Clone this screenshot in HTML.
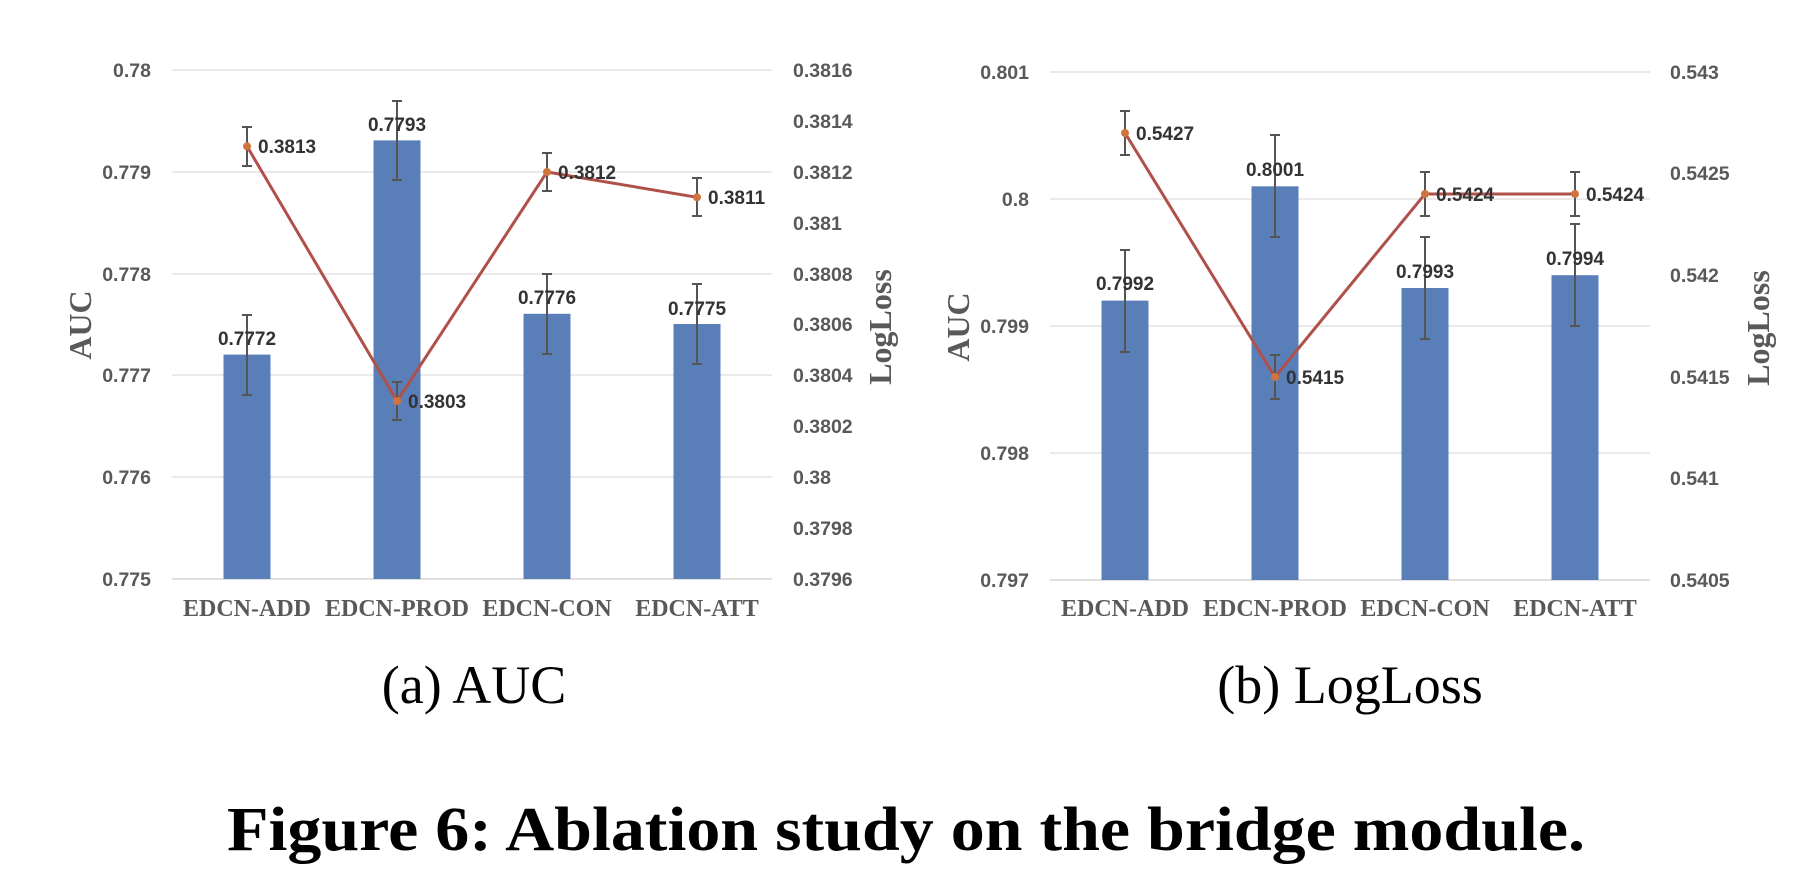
<!DOCTYPE html>
<html><head><meta charset="utf-8"><style>
html,body{margin:0;padding:0;background:#fff;}
svg{display:block;}
.t{font-family:"Liberation Sans",sans-serif;font-weight:bold;font-size:19.5px;fill:#595959;}
.d{font-family:"Liberation Sans",sans-serif;font-weight:bold;font-size:19px;fill:#333;}
.x{font-family:"Liberation Serif",serif;font-weight:bold;font-size:24px;fill:#595959;}
.at{font-family:"Liberation Serif",serif;font-weight:bold;font-size:32px;fill:#595959;}
.cap{font-family:"Liberation Serif",serif;font-size:54px;fill:#000;}
.fig{font-family:"Liberation Serif",serif;font-weight:bold;font-size:62px;fill:#000;}
</style></head><body>
<svg width="1812" height="892" viewBox="0 0 1812 892" xmlns="http://www.w3.org/2000/svg">
<!-- LEFT CHART -->
<g stroke="#e3e3e3" stroke-width="1.5">
<line x1="172" y1="70" x2="772" y2="70"/><line x1="172" y1="172" x2="772" y2="172"/>
<line x1="172" y1="274" x2="772" y2="274"/><line x1="172" y1="375" x2="772" y2="375"/>
<line x1="172" y1="477" x2="772" y2="477"/>
</g>
<line x1="172" y1="579" x2="772" y2="579" stroke="#d6d6d6" stroke-width="1.5"/>
<g class="t" text-anchor="end">
<text x="151" y="77">0.78</text><text x="151" y="179">0.779</text><text x="151" y="281">0.778</text>
<text x="151" y="382">0.777</text><text x="151" y="484">0.776</text><text x="151" y="586">0.775</text>
</g>
<g class="t">
<text x="793" y="77">0.3816</text><text x="793" y="128">0.3814</text><text x="793" y="179">0.3812</text>
<text x="793" y="230">0.381</text><text x="793" y="281">0.3808</text><text x="793" y="331">0.3806</text>
<text x="793" y="382">0.3804</text><text x="793" y="433">0.3802</text><text x="793" y="484">0.38</text>
<text x="793" y="535">0.3798</text><text x="793" y="586">0.3796</text>
</g>
<g fill="#5a7fb8">
<rect x="223.5" y="354.6" width="47" height="224.4"/>
<rect x="373.5" y="140.4" width="47" height="438.6"/>
<rect x="523.5" y="313.8" width="47" height="265.2"/>
<rect x="673.5" y="324" width="47" height="255"/>
</g>
<g stroke="#555" stroke-width="2">
<path d="M247 315V395M242 315H252M242 395H252"/>
<path d="M397 101V180M392 101H402M392 180H402"/>
<path d="M547 274V354M542 274H552M542 354H552"/>
<path d="M697 284V364M692 284H702M692 364H702"/>
</g>
<polyline points="247,146.3 397,401 547,172 697,197.3" fill="none" stroke="#b0504a" stroke-width="3"/>
<g stroke="#555" stroke-width="2">
<path d="M247 127V166M242 127H252M242 166H252"/>
<path d="M397 382V420M392 382H402M392 420H402"/>
<path d="M547 153V191M542 153H552M542 191H552"/>
<path d="M697 178V216M692 178H702M692 216H702"/>
</g>
<g fill="#d0733c"><circle cx="247" cy="146.3" r="4"/><circle cx="397" cy="401" r="4"/><circle cx="547" cy="172" r="4"/><circle cx="697" cy="197.3" r="4"/></g>
<g class="d" text-anchor="middle">
<text x="247" y="345">0.7772</text><text x="397" y="131">0.7793</text>
<text x="547" y="304">0.7776</text><text x="697" y="315">0.7775</text>
</g>
<g class="d">
<text x="258" y="153">0.3813</text><text x="408" y="408">0.3803</text>
<text x="558" y="179">0.3812</text><text x="708" y="204">0.3811</text>
</g>
<g class="x" text-anchor="middle">
<text x="247" y="616">EDCN-ADD</text><text x="397" y="616">EDCN-PROD</text>
<text x="547" y="616">EDCN-CON</text><text x="697" y="616">EDCN-ATT</text>
</g>
<text class="at" text-anchor="middle" transform="translate(91,325) rotate(-90)">AUC</text>
<text class="at" text-anchor="middle" transform="translate(891,327) rotate(-90)">LogLoss</text>
<text class="cap" x="474" y="703" text-anchor="middle">(a)  AUC</text>

<!-- RIGHT CHART -->
<g stroke="#e3e3e3" stroke-width="1.5">
<line x1="1050" y1="72" x2="1650" y2="72"/><line x1="1050" y1="199" x2="1650" y2="199"/>
<line x1="1050" y1="326" x2="1650" y2="326"/><line x1="1050" y1="453" x2="1650" y2="453"/>
</g>
<line x1="1050" y1="580" x2="1650" y2="580" stroke="#d6d6d6" stroke-width="1.5"/>
<g class="t" text-anchor="end">
<text x="1029" y="79">0.801</text><text x="1029" y="206">0.8</text><text x="1029" y="333">0.799</text>
<text x="1029" y="460">0.798</text><text x="1029" y="587">0.797</text>
</g>
<g class="t">
<text x="1670" y="79">0.543</text><text x="1670" y="180">0.5425</text><text x="1670" y="282">0.542</text>
<text x="1670" y="384">0.5415</text><text x="1670" y="485">0.541</text><text x="1670" y="587">0.5405</text>
</g>
<g fill="#5a7fb8">
<rect x="1101.5" y="300.6" width="47" height="279.4"/>
<rect x="1251.5" y="186.3" width="47" height="393.7"/>
<rect x="1401.5" y="288" width="47" height="292"/>
<rect x="1551.5" y="275.2" width="47" height="304.8"/>
</g>
<g stroke="#555" stroke-width="2">
<path d="M1125 250V352M1120 250H1130M1120 352H1130"/>
<path d="M1275 135V237M1270 135H1280M1270 237H1280"/>
<path d="M1425 237V339M1420 237H1430M1420 339H1430"/>
<path d="M1575 224V326M1570 224H1580M1570 326H1580"/>
</g>
<polyline points="1125,133 1275,377 1425,194 1575,194" fill="none" stroke="#b0504a" stroke-width="3"/>
<g stroke="#555" stroke-width="2">
<path d="M1125 111V155M1120 111H1130M1120 155H1130"/>
<path d="M1275 355V399M1270 355H1280M1270 399H1280"/>
<path d="M1425 172V216M1420 172H1430M1420 216H1430"/>
<path d="M1575 172V216M1570 172H1580M1570 216H1580"/>
</g>
<g fill="#d0733c"><circle cx="1125" cy="133" r="4"/><circle cx="1275" cy="377" r="4"/><circle cx="1425" cy="194" r="4"/><circle cx="1575" cy="194" r="4"/></g>
<g class="d" text-anchor="middle">
<text x="1125" y="290">0.7992</text><text x="1275" y="176">0.8001</text>
<text x="1425" y="278">0.7993</text><text x="1575" y="265">0.7994</text>
</g>
<g class="d">
<text x="1136" y="140">0.5427</text><text x="1286" y="384">0.5415</text>
<text x="1436" y="201">0.5424</text><text x="1586" y="201">0.5424</text>
</g>
<g class="x" text-anchor="middle">
<text x="1125" y="616">EDCN-ADD</text><text x="1275" y="616">EDCN-PROD</text>
<text x="1425" y="616">EDCN-CON</text><text x="1575" y="616">EDCN-ATT</text>
</g>
<text class="at" text-anchor="middle" transform="translate(969,327) rotate(-90)">AUC</text>
<text class="at" text-anchor="middle" transform="translate(1769,328) rotate(-90)">LogLoss</text>
<text class="cap" x="1350" y="703" text-anchor="middle">(b)  LogLoss</text>

<text class="fig" x="227" y="850" textLength="1358" lengthAdjust="spacingAndGlyphs">Figure 6: Ablation study on the bridge module.</text>
</svg>
</body></html>
